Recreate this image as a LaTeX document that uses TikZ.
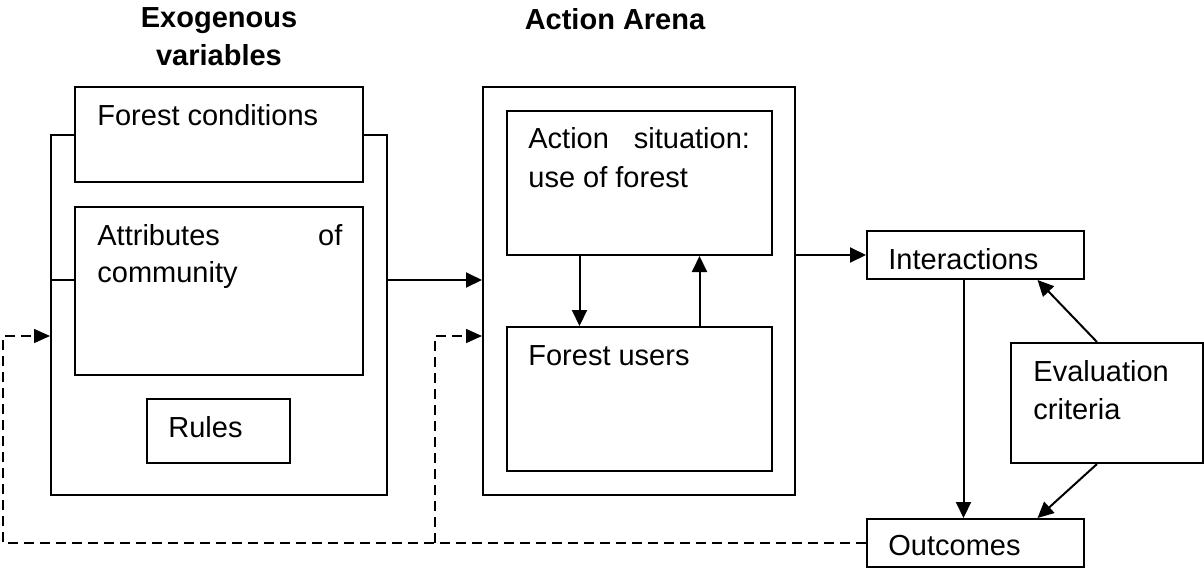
\documentclass[tikz,border=0pt]{standalone}
\usepackage{fontspec}
\setmainfont{Liberation Sans}
\usetikzlibrary{arrows.meta,fit}
\begin{document}
\begin{tikzpicture}[x=0.5pt,y=-0.5pt,
  box/.style={draw, line width=1pt, inner sep=0pt, fill=white},
  txt/.style={anchor=base west, inner sep=0pt, font=\fontsize{14.5pt}{19pt}\selectfont},
  ttl/.style={anchor=base, inner sep=0pt, font=\fontsize{14.5pt}{19pt}\selectfont\bfseries},
  arr/.style={line width=1pt, -{Triangle[length=8pt,width=7.5pt]}},
  feedback/.style={line width=0.8pt, dash pattern=on 5pt off 3pt, -{Triangle[length=8pt,width=7pt]}},
]
\useasboundingbox (0,0) rectangle (1204,568);

% exogenous variables
\node[box, fit={(51,135) (387,495)}] (exo) {};
\node[box, fit={(75,87) (363,182)}] (fc) {};
\node[box, fit={(75,207) (363,375)}] (attr) {};
\node[box, fit={(147,399) (290,463)}] (rules) {};
\coordinate (stub) at (0,280);
\draw[line width=1pt] (exo.west |- stub) -- (attr.west |- stub);

% action arena
\node[box, fit={(483,87) (795,495)}] (arena) {};
\node[box, fit={(507,111) (772,255)}] (sit) {};
\node[box, fit={(507,327) (772,471)}] (users) {};

% results and evaluation
\node[box, fit={(867,231) (1084,279)}] (inter) {};
\node[box, fit={(867,519) (1084,567)}] (outc) {};
\node[box, fit={(1011,343) (1203,463)}] (eval) {};

% labels
\node[ttl] (t-exo) at (219,27) {\begin{tabular}[t]{@{}c@{}}Exogenous\\variables\end{tabular}};
\node[ttl] (t-arena) at (615,29) {Action Arena};
\node[txt] (t-fc) at (97,125) {Forest conditions};
\node[txt, font=\fontsize{14.5pt}{18.5pt}\selectfont] (t-attr) at (97,245)
  {\begin{tabular}[t]{@{}l@{}}\makebox[122.5pt][s]{Attributes of}\\community\end{tabular}};
\node[txt] (t-rules) at (168,437) {Rules};
\node[txt, font=\fontsize{14.5pt}{19.5pt}\selectfont] (t-sit) at (528,148)
  {\begin{tabular}[t]{@{}l@{}}\makebox[110.8pt][s]{Action situation:}\\use of forest\end{tabular}};
\node[txt] (t-users) at (528,365) {Forest users};
\node[txt] (t-inter) at (888,269) {Interactions};
\node[txt, font=\fontsize{14.5pt}{19.3pt}\selectfont] (t-eval) at (1033,381)
  {\begin{tabular}[t]{@{}l@{}}Evaluation\\criteria\end{tabular}};
\node[txt] (t-outc) at (888,555) {Outcomes};

% flows
\draw[arr] (exo.east |- stub) -- (arena.west |- stub);
\draw[arr] (arena.east |- inter.west) -- (inter.west);
\draw[arr] ([xshift=-30pt]sit.south) -- ([xshift=-30pt]users.north);
\draw[arr] ([xshift=30pt]users.north) -- ([xshift=30pt]sit.south);
\draw[arr] ([xshift=-6pt]inter.south) -- ([xshift=-6pt]outc.north);
\draw[arr] ([xshift=-5pt]eval.north) -- ([xshift=31pt]inter.south);
\draw[arr] ([xshift=-5pt]eval.south) -- ([xshift=31pt]outc.north);

% feedback from outcomes
\coordinate (fbL) at (3,543);
\coordinate (fbM) at (435,543);
\coordinate (fbH) at (0,336);
\draw[feedback] (outc.west) -- (fbL) |- (exo.west |- fbH);
\draw[feedback] (fbM) |- (arena.west |- fbH);
\end{tikzpicture}
\end{document}
